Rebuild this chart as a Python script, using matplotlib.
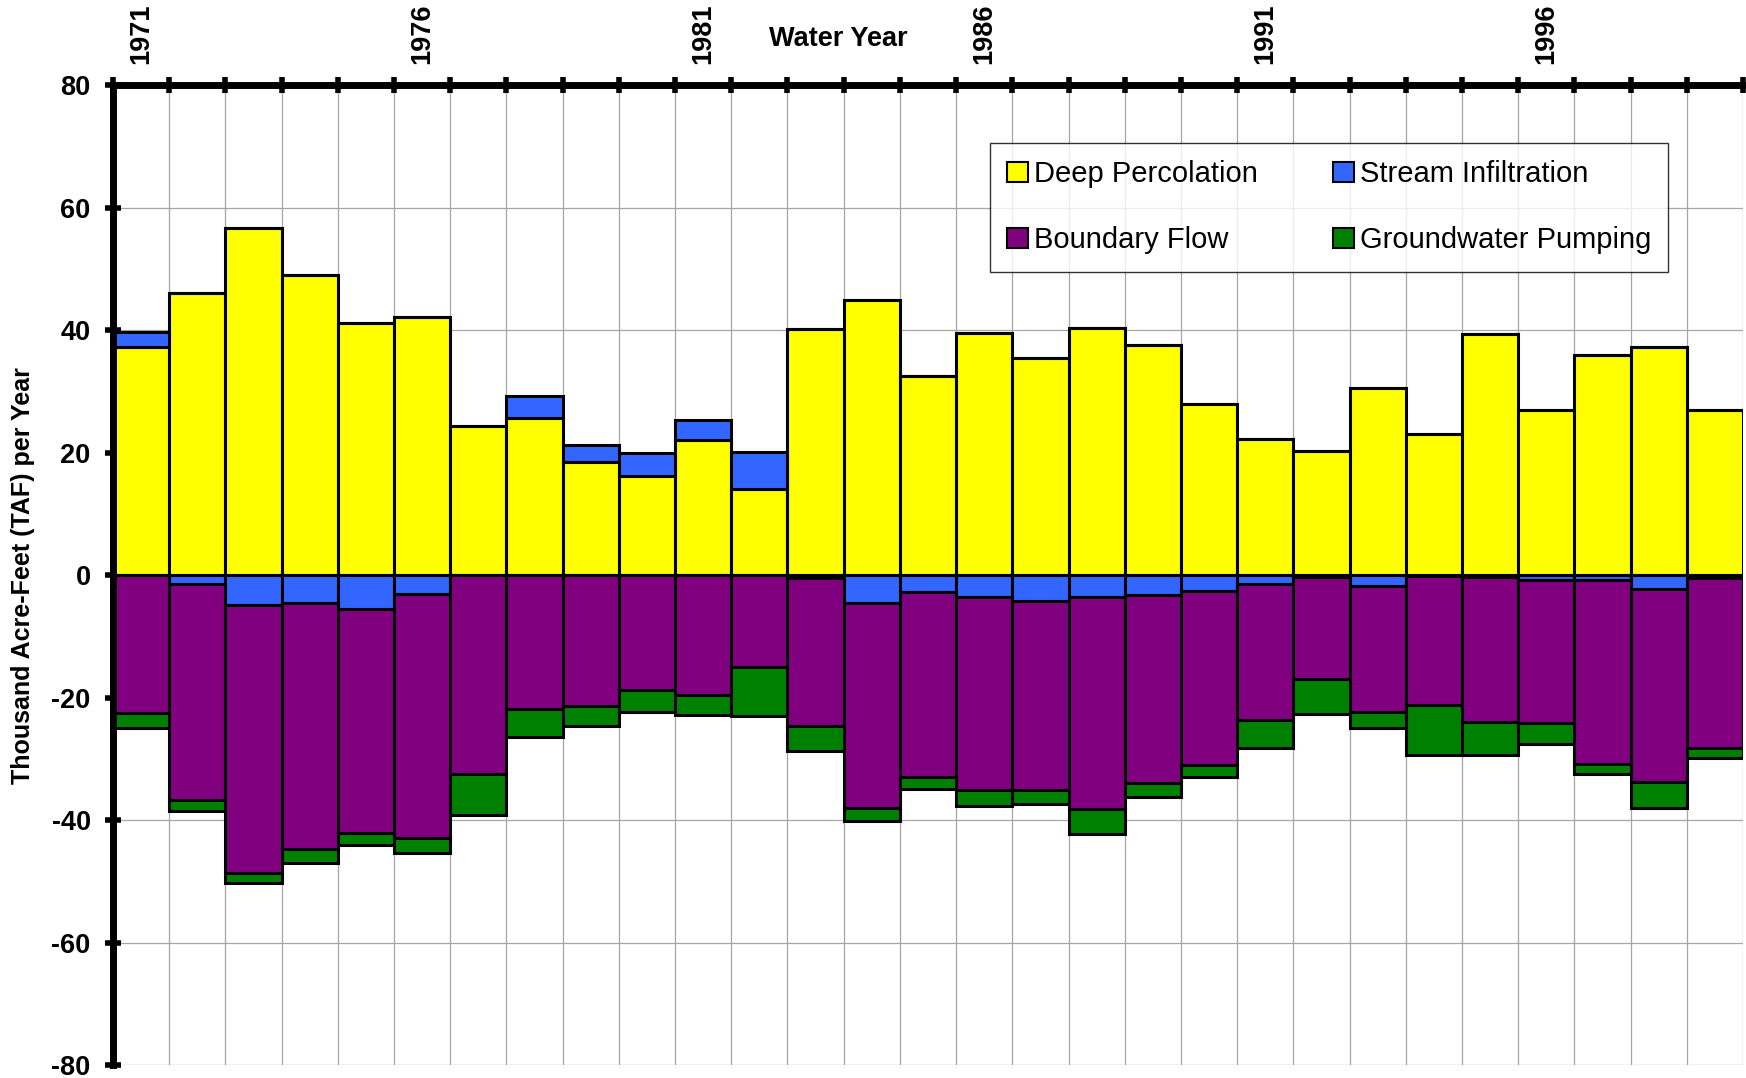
"""Annual groundwater budget components, water years 1971-1999."""
import matplotlib

matplotlib.use("Agg")
import matplotlib.pyplot as plt  # noqa: E402
import numpy as np  # noqa: E402

YEARS = list(range(1971, 2000))
LABELED_YEARS = [1971, 1976, 1981, 1986, 1991, 1996]

# thousand acre-feet per year
DEEP_PERCOLATION = [
    37.3, 46.1, 56.6, 49.0, 41.1, 42.2, 24.3, 25.7, 18.5, 16.2,
    22.1, 14.0, 40.2, 44.9, 32.5, 39.5, 35.5, 40.3, 37.6, 27.9,
    22.3, 20.3, 30.5, 23.1, 39.3, 26.9, 36.0, 37.2, 26.9,
]
# signed: positive = recharge, negative = loss to streams
STREAM_INFILTRATION = [
    2.4, -1.5, -4.9, -4.6, -5.5, -3.1, 0.0, 3.6, 2.7, 3.8,
    3.3, 6.1, -0.5, -4.6, -2.8, -3.6, -4.3, -3.6, -3.2, -2.6,
    -1.4, -0.3, -1.8, -0.2, -0.3, -0.8, -0.8, -2.3, -0.4,
]
BOUNDARY_FLOW = [
    -22.5, -35.2, -43.7, -40.1, -36.6, -39.9, -32.5, -21.9, -21.3, -18.7,
    -19.5, -15.0, -24.1, -33.5, -30.1, -31.5, -30.8, -34.6, -30.7, -28.4,
    -22.2, -16.7, -20.5, -21.0, -23.7, -23.4, -30.1, -31.4, -27.9,
]
GROUNDWATER_PUMPING = [
    -2.5, -1.8, -1.7, -2.3, -2.0, -2.3, -6.7, -4.5, -3.3, -3.7,
    -3.4, -8.0, -4.1, -2.1, -2.1, -2.6, -2.3, -4.0, -2.3, -2.0,
    -4.7, -5.6, -2.7, -8.2, -5.4, -3.4, -1.6, -4.4, -1.5,
]

COLORS = {
    "Deep Percolation": "#FFFF00",
    "Stream Infiltration": "#3366FF",
    "Boundary Flow": "#800080",
    "Groundwater Pumping": "#008000",
}

plt.rcParams["font.family"] = ["Liberation Sans", "DejaVu Sans"]
plt.rcParams["axes.unicode_minus"] = False


def main() -> None:
    x = np.arange(len(YEARS))
    dp = np.array(DEEP_PERCOLATION)
    si = np.array(STREAM_INFILTRATION)
    bf = np.array(BOUNDARY_FLOW)
    gp = np.array(GROUNDWATER_PUMPING)
    si_pos = np.clip(si, 0, None)
    si_neg = np.clip(si, None, 0)

    fig = plt.figure(figsize=(17.46, 10.78), dpi=100)
    ax = fig.add_axes([0.0647, 0.012, 0.9336, 0.909])

    bar_kw = dict(width=1.0, edgecolor="black", linewidth=2.2, zorder=3)
    h_dp = ax.bar(x, dp, color=COLORS["Deep Percolation"], **bar_kw)
    h_si = ax.bar(x, si_pos, bottom=dp, color=COLORS["Stream Infiltration"], **bar_kw)
    ax.bar(x, si_neg, color=COLORS["Stream Infiltration"], **bar_kw)
    h_bf = ax.bar(x, bf, bottom=si_neg, color=COLORS["Boundary Flow"], **bar_kw)
    h_gp = ax.bar(x, gp, bottom=si_neg + bf, color=COLORS["Groundwater Pumping"], **bar_kw)

    ax.set_xlim(-0.5, len(YEARS) - 0.5)
    ax.set_ylim(-80, 80)

    # x axis on top: ticks on bar boundaries, labels on bar centres
    ax.xaxis.tick_top()
    ax.set_xticks(np.arange(len(YEARS) + 1) - 0.5)
    ax.set_xticklabels([])
    lab_pos = [YEARS.index(y) for y in LABELED_YEARS]
    ax.set_xticks(lab_pos, minor=True)
    ax.set_xticklabels([str(y) for y in LABELED_YEARS], minor=True,
                       rotation=90, fontsize=19.5, fontweight="bold")
    ax.tick_params(axis="x", which="major", direction="inout", length=12,
                   width=4, top=True, bottom=False)
    ax.tick_params(axis="x", which="minor", length=0, pad=15, top=True, bottom=False)
    ax.set_xlabel("Water Year", fontsize=19.5, fontweight="bold")
    ax.xaxis.set_label_position("top")
    ax.xaxis.set_label_coords(0.445, 1.047)
    ax.xaxis.label.set_verticalalignment("center")

    ax.set_yticks(np.arange(-80, 81, 20))
    ax.set_yticklabels([str(v) for v in range(-80, 81, 20)], fontsize=19.5,
                       fontweight="bold")
    ax.tick_params(axis="y", direction="inout", length=12, width=4, pad=10)
    ax.set_ylabel("Thousand Acre-Feet (TAF) per Year", fontsize=18,
                  fontweight="bold", labelpad=12)

    ax.grid(True, color="#A6A6A6", linewidth=0.9, zorder=0)
    ax.set_axisbelow(True)
    for side in ("right", "bottom"):
        ax.spines[side].set_visible(False)
    for side in ("left", "top"):
        ax.spines[side].set_linewidth(5)
        ax.spines[side].set_zorder(5)

    leg = ax.legend(
        [h_dp, h_bf, h_si, h_gp],
        ["Deep Percolation", "Boundary Flow", "Stream Infiltration", "Groundwater Pumping"],
        ncol=2, loc="upper left", bbox_to_anchor=(0.529, 0.956),
        fontsize=21, frameon=True, fancybox=False, edgecolor="black",
        handlelength=0.7, handleheight=0.7, handletextpad=0.2,
        labelspacing=1.3, columnspacing=2.6, borderpad=0.6,
    )
    leg.get_frame().set_linewidth(1.0)
    for h in leg.legend_handles:
        h.set_linewidth(1.5)

    fig.savefig("out.png", dpi=100)
    plt.close(fig)


if __name__ == "__main__":
    main()
